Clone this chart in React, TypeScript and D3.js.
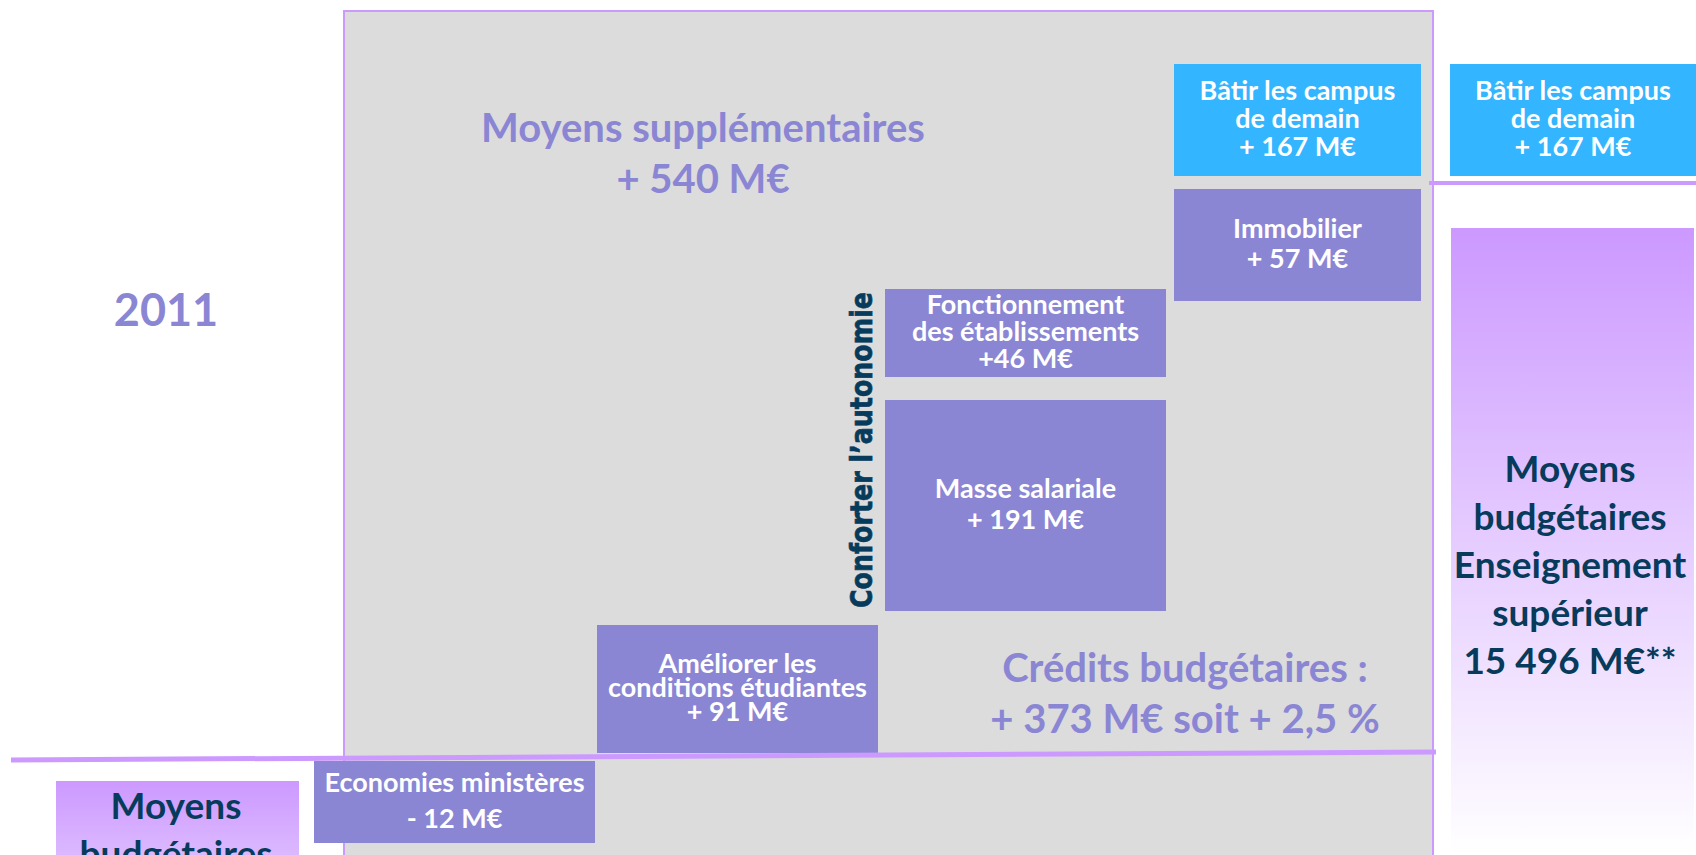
import * as d3 from 'd3';

const W = 1696;
const H = 855;

// --- données ---------------------------------------------------------
const stepKeys = ['eco', 'etud', 'masse', 'fonct', 'immo', 'campus'];
const stepLabels = [
  ['Economies ministères', '- 12 M€'],
  ['Améliorer les', 'conditions étudiantes', '+ 91 M€'],
  ['Masse salariale', '+ 191 M€'],
  ['Fonctionnement', 'des établissements', '+46 M€'],
  ['Immobilier', '+ 57 M€'],
  ['Bâtir les campus', 'de demain', '+ 167 M€'],
];
const stepValues = [-12, 91, 191, 46, 57, 167];
const stepColumns = ['c0', 'c1', 'c2', 'c2', 'c3', 'c3'];

const yearLabel = '2011';
const startLabel = ['Moyens', 'budgétaires'];
const totalLabel = ['Moyens', 'budgétaires', 'Enseignement', 'supérieur', '15 496 M€**'];
const extraLabel = ['Moyens supplémentaires', '+ 540 M€'];
const creditLabel = ['Crédits budgétaires :', '+ 373 M€ soit + 2,5 %'];
const groupLabel = 'Conforter l’autonomie';

// --- mise en page ----------------------------------------------------
const columns = ['c0', 'c1', 'c2', 'c3', 'c4'];
const colX = d3.scaleOrdinal<string, number>().domain(columns).range([314, 597, 885, 1174, 1450]);
const colW = d3.scaleOrdinal<string, number>().domain(columns).range([281, 281, 281, 247, 246]);
const stepTop = d3.scaleOrdinal<string, number>().domain(stepKeys).range([761, 625, 400, 289, 189, 64]);
const stepBottom = d3.scaleOrdinal<string, number>().domain(stepKeys).range([843, 753, 611, 377, 301, 176]);
const lineGap = d3.scaleOrdinal<string, number>().domain(stepKeys).range([36, 24, 31, 27, 30, 28]);

const PURPLE = '#8a86d4';
const BLUE = '#33b5ff';
const LILAC = '#cc99ff';
const NAVY = '#073b5c';
const GREY = '#dcdcdc';
const FONT = 'Lato, "Open Sans", sans-serif';

function Box({ x, y, w, h, fill, lines, gap, size }: any) {
  const cy = y + h / 2;
  const first = cy - ((lines.length - 1) * gap) / 2 + size * 0.3;
  return (
    <g>
      <rect x={x} y={y} width={w} height={h} fill={fill} />
      {lines.map((t: string, i: number) => (
        <text key={i} x={x + w / 2} y={first + i * gap} textAnchor="middle"
          fill="#fff" fontFamily={FONT} fontWeight={700} fontSize={size}>{t}</text>
      ))}
    </g>
  );
}

export default function App() {
  const campusIdx = stepKeys.indexOf('campus');
  // contrôle : somme des mesures = moyens supplémentaires
  const total = d3.sum(stepValues);

  return (
    <svg width={W} height={H} style={{ position: 'absolute', left: 0, top: 0, background: '#fff' }}
      xmlns="http://www.w3.org/2000/svg" data-total={total}>
      <defs>
        <linearGradient id="lilacFade" x1="0" y1="0" x2="0" y2="1">
          <stop offset="0" stopColor={LILAC} />
          <stop offset="1" stopColor="#ffffff" />
        </linearGradient>
      </defs>

      {/* cadre gris */}
      <rect x={344} y={11} width={1089} height={H} fill={GREY} stroke={LILAC} strokeWidth={2} />

      {/* 2011 */}
      <text x={166} y={326} textAnchor="middle" fill={PURPLE} fontFamily={FONT} fontWeight={700} fontSize={45}>
        {yearLabel}
      </text>

      {/* titres dans le cadre */}
      {extraLabel.map((t, i) => (
        <text key={t} x={703} y={142 + i * 51} textAnchor="middle" fill={PURPLE}
          fontFamily={FONT} fontWeight={700} fontSize={40}>{t}</text>
      ))}
      {creditLabel.map((t, i) => (
        <text key={t} x={1185} y={682 + i * 51} textAnchor="middle" fill={PURPLE}
          fontFamily={FONT} fontWeight={700} fontSize={40}>{t}</text>
      ))}

      {/* boîtes de l'escalier */}
      {stepKeys.map((k, i) => (
        <Box key={k} x={colX(stepColumns[i])} y={stepTop(k)} w={colW(stepColumns[i])}
          h={stepBottom(k) - stepTop(k)} fill={k === 'campus' ? BLUE : PURPLE}
          lines={stepLabels[i]} gap={lineGap(k)} size={27} />
      ))}

      {/* campus reporté à droite */}
      <Box x={colX('c4')} y={stepTop('campus')} w={colW('c4')}
        h={stepBottom('campus') - stepTop('campus')} fill={BLUE}
        lines={stepLabels[campusIdx]} gap={lineGap('campus')} size={27} />

      {/* Conforter l'autonomie */}
      <text transform="translate(872,450) rotate(-90)" textAnchor="middle" fill={NAVY}
        stroke={NAVY} strokeWidth={0.7}
        style={{ fontFamily: '"DejaVu Sans", Verdana, sans-serif', fontWeight: 700 }}
        fontSize={31} textLength={316} lengthAdjust="spacingAndGlyphs">{groupLabel}</text>

      {/* lignes de niveau */}
      <line x1={11} y1={760} x2={1436} y2={752} stroke={LILAC} strokeWidth={5} />
      <line x1={1429} y1={183} x2={1696} y2={183} stroke={LILAC} strokeWidth={4} />

      {/* total 2012 */}
      <rect x={1451} y={228} width={243} height={627} fill="url(#lilacFade)" />
      {totalLabel.map((t, i) => (
        <text key={i} x={1570} y={482 + i * 48} textAnchor="middle" fill={NAVY}
          fontFamily={FONT} fontWeight={700} fontSize={37}>{t}</text>
      ))}

      {/* départ 2011 */}
      <rect x={56} y={781} width={243} height={240} fill="url(#lilacFade)" />
      {startLabel.map((t, i) => (
        <text key={i} x={176} y={819 + i * 48} textAnchor="middle" fill={NAVY}
          fontFamily={FONT} fontWeight={700} fontSize={37}>{t}</text>
      ))}
    </svg>
  );
}
